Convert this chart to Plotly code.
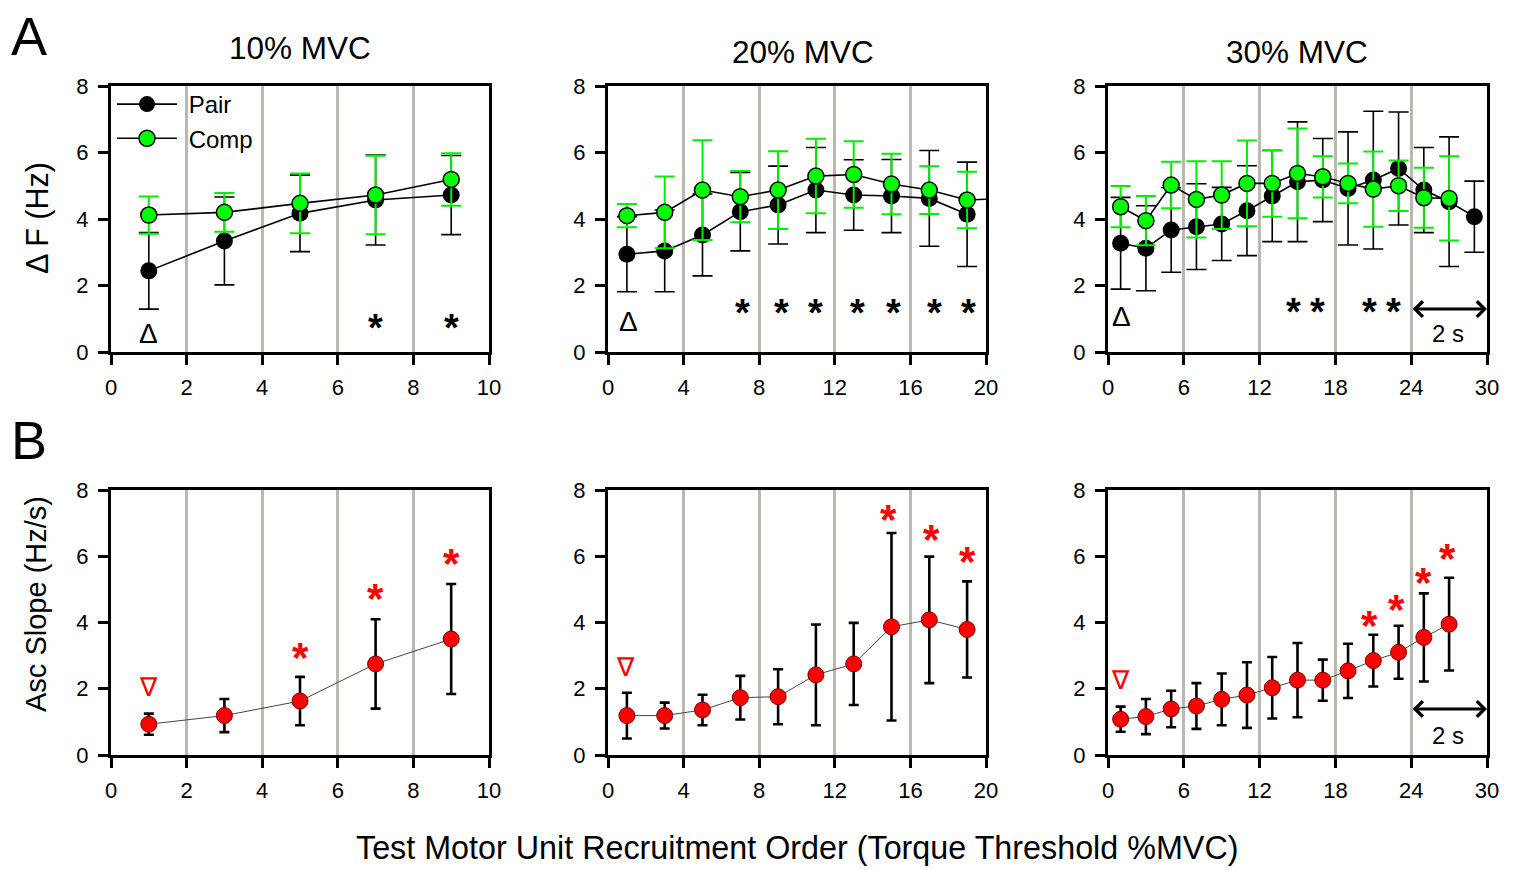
import plotly.graph_objects as go

W, H = 1518, 870
FONT = "Liberation Sans, Arial, sans-serif"

# ---------------- data ----------------
# Panel A: Delta F (Hz), mean and SD
x10 = [1, 3, 5, 7, 9]
pair10 = [2.44, 3.34, 4.17, 4.57, 4.72]
pair10_sd = [1.15, 1.32, 1.15, 1.35, 1.19]
comp10 = [4.12, 4.20, 4.47, 4.72, 5.19]
comp10_sd = [0.56, 0.58, 0.90, 1.18, 0.79]

x20 = [1, 3, 5, 7, 9, 11, 13, 15, 17, 19]
pair20 = [2.94, 3.04, 3.52, 4.22, 4.42, 4.87, 4.72, 4.69, 4.62, 4.14]
pair20_sd = [1.13, 1.23, 1.23, 1.18, 1.17, 1.28, 1.06, 1.10, 1.44, 1.57]
x20c = [1, 3, 5, 7, 9, 11, 13, 15, 17, 19, 21]
comp20 = [4.10, 4.20, 4.87, 4.67, 4.87, 5.29, 5.34, 5.05, 4.87, 4.57, 4.62]
comp20_sd = [0.35, 1.08, 1.50, 0.77, 1.17, 1.12, 1.00, 0.91, 0.72, 0.85, 0.0]

x30 = [1, 3, 5, 7, 9, 11, 13, 15, 17, 19, 21, 23, 25, 27, 29]
pair30 = [3.27, 3.12, 3.67, 3.77, 3.85, 4.25, 4.69, 5.12, 5.17, 4.92, 5.17, 5.52, 4.87, 4.52, 4.07]
pair30_sd = [1.38, 1.28, 1.27, 1.29, 1.10, 1.35, 1.37, 1.80, 1.25, 1.70, 2.07, 1.70, 1.28, 1.95, 1.07]
x30c = [1, 3, 5, 7, 9, 11, 13, 15, 17, 19, 21, 23, 25, 27]
comp30 = [4.37, 3.95, 5.02, 4.59, 4.72, 5.07, 5.07, 5.37, 5.27, 5.07, 4.90, 5.00, 4.64, 4.62]
comp30_sd = [0.62, 0.74, 0.70, 1.15, 1.02, 1.29, 1.00, 1.35, 0.62, 0.60, 1.13, 0.76, 0.90, 1.27]

# Panel B: ascending slope (Hz/s)
slope10 = [0.93, 1.19, 1.63, 2.75, 3.50]
slope10_sd = [0.32, 0.50, 0.73, 1.35, 1.66]
slope20 = [1.19, 1.19, 1.36, 1.73, 1.76, 2.42, 2.75, 3.87, 4.08, 3.79]
slope20_sd = [0.69, 0.39, 0.46, 0.66, 0.83, 1.52, 1.24, 2.83, 1.91, 1.45]
x30s = [1, 3, 5, 7, 9, 11, 13, 15, 17, 19, 21, 23, 25, 27]
slope30 = [1.08, 1.16, 1.39, 1.48, 1.68, 1.81, 2.03, 2.26, 2.26, 2.54, 2.85, 3.10, 3.55, 3.95]
slope30_sd = [0.38, 0.53, 0.55, 0.69, 0.78, 0.99, 0.93, 1.12, 0.62, 0.82, 0.78, 0.80, 1.33, 1.40]

# significance marks (x, y of symbol centre)
sigA10_x = [7, 9]
sigA10_y = [0.86, 0.86]
sigA20_x = [7.1, 9.2, 11.0, 13.2, 15.1, 17.3, 19.1]
sigA20_y = [1.32] * 7
sigA30_x = [14.7, 16.6, 20.7, 22.6]
sigA30_y = [1.36] * 4
deltaA_x = [1.0, 1.1, 1.1]
deltaA_y = [0.57, 0.91, 1.06]

sigB10_x = [5, 7, 9]
sigB10_y = [3.12, 4.90, 5.97]
sigB20_x = [14.85, 17.1, 19.0]
sigB20_y = [7.30, 6.69, 6.01]
sigB30_x = [20.7, 22.8, 25.0, 26.9]
sigB30_y = [4.08, 4.56, 5.40, 6.11]
triB_x = [1.0, 0.9, 0.95]
triB_y = [2.06, 2.67, 2.26]

panel_titles = ["10% MVC", "20% MVC", "30% MVC"]
x_ranges = [10, 20, 30]
x_dticks = [2, 4, 6]

# ---------------- layout helpers ----------------
col_px = [(111, 489), (608, 986), (1108, 1487)]
row_px = [(86, 352), (490, 755)]


def dom_x(c):
    return [col_px[c][0] / W, col_px[c][1] / W]


def dom_y(r):
    return [1 - row_px[r][1] / H, 1 - row_px[r][0] / H]


fig = go.Figure()

GRID = "#b9b9ae"


def axname(r, c):
    i = r * 3 + c + 1
    return ("x" if i == 1 else f"x{i}"), ("y" if i == 1 else f"y{i}")


# ---------- top row traces ----------
top_data = [
    (x10, pair10, pair10_sd, x10, comp10, comp10_sd),
    (x20, pair20, pair20_sd, x20c, comp20, comp20_sd),
    (x30, pair30, pair30_sd, x30c, comp30, comp30_sd),
]
for c, (xp, yp, sp, xc, yc, sc) in enumerate(top_data):
    xa, ya = axname(0, c)
    fig.add_trace(go.Scatter(
        x=xp, y=yp, xaxis=xa, yaxis=ya, mode="lines+markers", name="\u00a0Pair",
        showlegend=(c == 0), legendrank=1,
        line=dict(color="black", width=1.6),
        marker=dict(size=17, color="black"),
        error_y=dict(type="data", array=sp, visible=True, color="black", thickness=1.6, width=10),
    ))
    fig.add_trace(go.Scatter(
        x=xc, y=yc, xaxis=xa, yaxis=ya, mode="lines+markers", name="\u00a0Comp",
        showlegend=(c == 0), legendrank=2,
        line=dict(color="black", width=1.6),
        marker=dict(size=16, color="#00ff00", line=dict(color="black", width=1.5)),
        error_y=dict(type="data", array=sc, visible=True, color="#00ee00", thickness=2, width=10),
    ))

# ---------- bottom row traces ----------
bot_data = [(x10, slope10, slope10_sd), (x20, slope20, slope20_sd), (x30s, slope30, slope30_sd)]
for c, (xs, ys, ss) in enumerate(bot_data):
    xa, ya = axname(1, c)
    fig.add_trace(go.Scatter(
        x=xs, y=ys, xaxis=xa, yaxis=ya, mode="lines+markers", showlegend=False,
        line=dict(color="#444444", width=1),
        marker=dict(size=16, color="#ff0000", line=dict(color="#7a0000", width=1)),
        error_y=dict(type="data", array=ss, visible=True, color="black", thickness=2.6, width=5),
    ))

# ---------- axes ----------
layout_axes = {}
for r in range(2):
    for c in range(3):
        i = r * 3 + c + 1
        xk = "xaxis" if i == 1 else f"xaxis{i}"
        yk = "yaxis" if i == 1 else f"yaxis{i}"
        xa, ya = axname(r, c)
        common = dict(
            showline=True, linewidth=3, linecolor="black", mirror=True,
            ticks="outside", ticklen=10, tickwidth=3, tickcolor="black",
            tickfont=dict(size=22, family=FONT, color="black"),
            zeroline=False, automargin=False,
        )
        layout_axes[xk] = dict(
            domain=dom_x(c), anchor=ya, range=[0, x_ranges[c]], tick0=0, dtick=x_dticks[c],
            showgrid=True, gridcolor=GRID, gridwidth=3, ticklabelstandoff=4, **common,
        )
        layout_axes[yk] = dict(
            domain=dom_y(r), anchor=xa, range=[0, 8], tick0=0, dtick=2,
            showgrid=False, ticklabelstandoff=5, **common,
        )
fig.update_layout(**layout_axes)

# ---------- annotations ----------
ann = []


def paper_text(text, px, py, size, angle=0):
    ann.append(dict(text=text, x=px / W, y=1 - py / H, xref="paper", yref="paper",
                    showarrow=False, textangle=angle, xanchor="center", yanchor="middle",
                    font=dict(size=size, family=FONT, color="black")))


paper_text("A", 29, 36, 54)
paper_text("B", 29, 440, 54)
paper_text(panel_titles[0], 300, 48, 31.5)
paper_text(panel_titles[1], 803, 52, 31.5)
paper_text(panel_titles[2], 1297, 52, 31.5)
paper_text("Δ F (Hz)", 38, 218, 30.5, -90)
paper_text("Asc Slope (Hz/s)", 36, 604, 29, -90)
paper_text("Test Motor Unit Recruitment Order (Torque Threshold %MVC)", 797, 848, 32.3)


def data_text(text, x, y, r, c, size, color="black", yshift=0, bold=False):
    xa, ya = axname(r, c)
    ann.append(dict(text=(f"<b>{text}</b>" if bold else text), x=x, y=y, xref=xa, yref=ya,
                    showarrow=False, yshift=yshift,
                    font=dict(size=size, family=FONT, color=color)))


for c, (sx, sy) in enumerate([(sigA10_x, sigA10_y), (sigA20_x, sigA20_y), (sigA30_x, sigA30_y)]):
    for x, y in zip(sx, sy):
        data_text("*", x, y, 0, c, 38, "black", yshift=-5, bold=True)
    data_text("Δ", deltaA_x[c], deltaA_y[c], 0, c, 28, "black")

for c, (sx, sy) in enumerate([(sigB10_x, sigB10_y), (sigB20_x, sigB20_y), (sigB30_x, sigB30_y)]):
    for x, y in zip(sx, sy):
        data_text("*", x, y, 1, c, 42, "#ff0000", yshift=-6, bold=True)
    data_text("∇", triB_x[c], triB_y[c], 1, c, 26, "#ff0000")

# 2 s arrows in the 30% panels
arrow_y = [1.29, 1.39]
label_y = [0.56, 0.60]
for r in range(2):
    xa, ya = axname(r, 2)
    ann.append(dict(x=30, y=arrow_y[r], ax=24, ay=arrow_y[r], xref=xa, yref=ya,
                    axref=xa, ayref=ya, text="", showarrow=True, arrowhead=4,
                    arrowside="end+start", arrowsize=1, arrowwidth=3, arrowcolor="black",
                    standoff=0, startstandoff=0))
    data_text("2 s", 26.9, label_y[r], r, 2, 24, "black")

fig.update_layout(
    annotations=ann,
    width=W, height=H,
    margin=dict(l=0, r=0, t=0, b=0),
    paper_bgcolor="white", plot_bgcolor="white",
    font=dict(family=FONT, color="black"),
    legend=dict(x=112 / W, y=1 - 82 / H, xanchor="left", yanchor="top",
                bgcolor="rgba(0,0,0,0)", font=dict(size=24, family=FONT, color="black"),
                itemwidth=60, tracegroupgap=0),
)

fig.write_html("out.html")
